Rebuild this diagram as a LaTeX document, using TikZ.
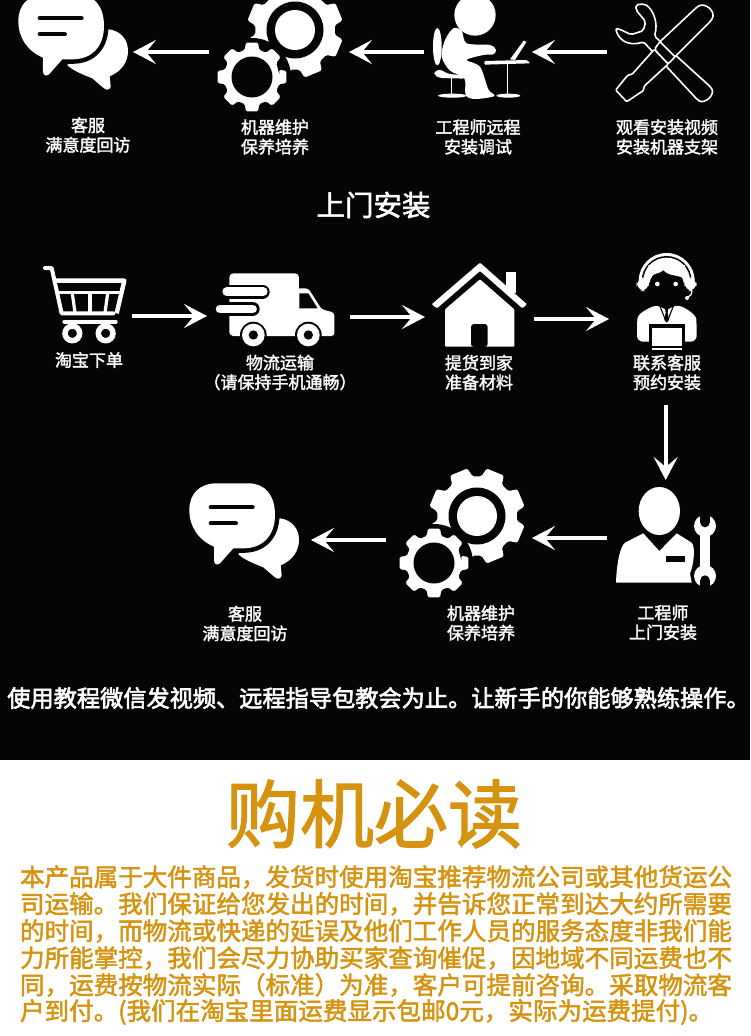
\documentclass[tikz,border=0pt]{standalone}
\usepackage{fontspec}
\usetikzlibrary{arrows.meta,calc}
\setmainfont{Noto Sans CJK SC}
\newfontfamily\cjkmed[FakeBold=1.9]{Noto Sans CJK SC}
\newfontfamily\cjkbold[FakeBold=2.6]{Noto Sans CJK SC}
\newfontfamily\cjktitle[FakeBold=1.6]{Noto Sans CJK SC}
\definecolor{bgdark}{HTML}{050505}
\definecolor{goldtxt}{HTML}{D6930F}
\tikzset{
  flow/.style={draw=white,line width=3.6pt,-{Stealth[length=23pt,width=24pt,inset=10pt]}},
  iconbox/.style={inner sep=0pt,outer sep=0pt,minimum height=#1},
  iconbox/.default=80pt,
  steplabel/.style={text=white,align=center,anchor=center,font=\cjkmed\fontsize{17}{19.6}\selectfont},
  zoomed/.style={x=0.33333pt,y=-0.33333pt},
  halo/.style={preaction={draw=bgdark,line width=#1}},
  bodyline/.style={anchor=west,text=goldtxt,font=\cjkmed\fontsize{24.55}{24.55}\selectfont},
  pics/chat/.style={code={
    \begin{scope}[shift={(170,460)},zoomed]
      \fill[white] (205,283) .. controls (225,300) and (250,310) .. (280,322) -- (315,352)
        .. controls (325,360) and (335,355) .. (335,345) -- (332,316)
        .. controls (370,300) and (387,270) .. (387,240) .. controls (387,205) and (365,180) .. (330,175)
        -- (250,200) -- cycle;
      \path[fill=white,halo=9pt] (58,150) .. controls (58,100) and (90,70) .. (140,70) -- (235,70)
        .. controls (285,70) and (315,105) .. (315,165) .. controls (315,225) and (280,265) .. (220,265)
        -- (190,265) -- (150,310) .. controls (140,318) and (132,312) .. (132,300) -- (132,260)
        .. controls (85,240) and (58,200) .. (58,150) -- cycle;
      \draw[bgdark,line width=4pt,line cap=round] (122,142) -- (248,142);
      \draw[bgdark,line width=4pt,line cap=round] (122,190) -- (198,190);
    \end{scope}}},
  pics/gears/.style={code={
    \begin{scope}
      \fill[white,rounded corners=1.5pt] (335,30)
        \foreach \i in {0,...,7} {
          -- ($(295,30)+({\i*45+22.5-16}:40)$) -- ($(295,30)+({\i*45+22.5-11}:48.5)$)
          -- ($(295,30)+({\i*45+22.5+11}:48.5)$) -- ($(295,30)+({\i*45+22.5+16}:40)$)
        } -- cycle;
      \fill[bgdark] (295,30) circle [radius=28.5];
      \fill[white] (295,30) circle [radius=20];
      \fill[bgdark] (252,77) circle [radius=39];
      \fill[white,rounded corners=1.5pt] (280,77)
        \foreach \i in {0,...,7} {
          -- ($(252,77)+({\i*45-15}:28)$) -- ($(252,77)+({\i*45-10}:35)$)
          -- ($(252,77)+({\i*45+10}:35)$) -- ($(252,77)+({\i*45+15}:28)$)
        } -- cycle;
      \fill[bgdark] (252,77) circle [radius=20.5];
    \end{scope}}}
}
\begin{document}
\begin{tikzpicture}[x=1pt,y=-1pt]
\useasboundingbox (0,0) rectangle (750,1036);
\clip (0,0) rectangle (750,1036);
\fill[white] (0,0) rectangle (750,1036);
\fill[bgdark] (0,0) rectangle (750,760);

% ---------- row 1 icons
\pic at (-171,-489) {chat};
\pic at (0,0) {gears};
% seated engineer
\begin{scope}[shift={(425,0)},zoomed]
  \fill[white] (150,45) circle [radius=62];
  \fill[white] (37,140) ellipse [x radius=13,y radius=56];
  \fill[white] plot[smooth cycle,tension=0.5] coordinates {(85,85) (110,92) (125,130) (195,135) (213,150) (205,163) (175,165) (125,180) (165,200) (190,268) (208,288) (150,297) (122,285) (118,235) (75,212) (50,170) (60,120)};
  \fill[white,rounded corners=3pt] (28,214) -- (45,208) -- (70,222) -- (122,226) -- (122,236) -- (45,234) -- (28,226) -- cycle;
  \draw[white,line width=1.5pt] (80,234) -- (80,285);
  \fill[white] (82,287) ellipse [x radius=43,y radius=6];
  \fill[white,rounded corners=1pt] (178,183) -- (305,180) -- (316,190) -- (178,194) -- cycle;
  \draw[white,line width=1.5pt] (248,190) -- (248,285);
  \fill[white] (250,287) ellipse [x radius=36,y radius=6];
  \fill[white] (255,178) -- (296,122) -- (304,126) -- (270,180) -- cycle;
\end{scope}
% wrench and screwdriver outline
\begin{scope}[shift={(375,0)},zoomed]
  \draw[white,fill=bgdark,line width=1.6pt,line join=round,rounded corners=2pt]
    (783,14) -- (808,12) .. controls (835,28) and (850,70) .. (838,108) -- (1008,262)
    .. controls (1020,285) and (990,312) .. (968,300) -- (805,125)
    .. controls (780,135) and (735,135) .. (722,85) -- (735,88) -- (768,104) -- (805,92) -- (812,65) -- (783,30) -- cycle;
  \draw[white,fill=bgdark,line width=1.6pt,line join=round,rounded corners=1pt]
    (838,148) -- (772,222) -- (758,226) -- (722,270) -- (755,305) -- (805,272) -- (808,258) -- (880,192) -- cycle;
  \draw[white,fill=bgdark,line width=1.6pt,line join=round,rounded corners=2pt]
    (855,125) -- (965,22) .. controls (990,5) and (1025,35) .. (1008,62) -- (900,170) -- (880,192) -- (838,148) -- cycle;
  \draw[white,line width=1.6pt] (855,125) -- (900,170);
\end{scope}

% ---------- row 2 icons
% cart
\begin{scope}[shift={(35,260)},zoomed]
  \draw[white,line width=4pt,line join=round,line cap=round] (30,24) -- (50,24) -- (80,160) -- (235,160);
  \draw[white,line width=4.4pt,line join=round] (58,62) -- (268,62) -- (245,160);
  \draw[white,line width=3pt] (66,98) -- (258,98);
  \draw[white,line width=3.2pt] (112,100) -- (120,158);
  \draw[white,line width=3.2pt] (165,100) -- (165,158);
  \draw[white,line width=3.2pt] (218,100) -- (210,158);
  \draw[white,line width=4pt,line cap=round] (88,185) -- (242,185);
  \draw[white,line width=5.5pt] (112,220) circle [radius=22];
  \draw[white,line width=5.5pt] (212,220) circle [radius=22];
\end{scope}
% truck
\begin{scope}[shift={(0,250)},zoomed]
  \fill[white,rounded corners=4pt] (688,70) -- (897,70) -- (897,258) -- (688,258) -- cycle;
  \fill[white,rounded corners=3pt] (890,115) -- (925,115) -- (965,178) -- (1003,188) -- (1003,258) -- (890,258) -- cycle;
  \fill[bgdark] (898,130) -- (925,130) -- (953,175) -- (898,175) -- cycle;
  \draw[bgdark,line width=14pt,line cap=round] (690,125) -- (788,125);
  \draw[white,line width=8.6pt,line cap=round] (680,125) -- (790,125);
  \draw[bgdark,line width=14pt,line cap=round] (660,177) -- (758,177);
  \draw[white,line width=8.6pt,line cap=round] (660,177) -- (758,177);
  \fill[bgdark] (760,255) circle [radius=40];
  \fill[white] (760,255) circle [radius=34];
  \fill[bgdark] (760,255) circle [radius=14];
  \fill[bgdark] (925,255) circle [radius=40];
  \fill[white] (925,255) circle [radius=34];
  \fill[bgdark] (925,255) circle [radius=14];
\end{scope}
% house
\begin{scope}[shift={(375,250)},zoomed]
  \fill[white] (393,65) rectangle (422,130);
  \fill[bgdark] (315,40) -- (455,165) -- (440,175) -- (315,60) -- cycle;
  \fill[white,rounded corners=1pt] (315,38) -- (456,163) -- (442,175) -- (315,63) -- (186,175) -- (170,163) -- cycle;
  \fill[white,rounded corners=1pt] (315,88) -- (418,178) -- (418,290) -- (210,290) -- (210,178) -- cycle;
  \fill[bgdark,rounded corners=3pt] (288,291) -- (288,222) -- (338,222) -- (338,291) -- cycle;
\end{scope}
% agent
\begin{scope}[shift={(625,245)},zoomed]
  \begin{scope}
    \clip (0,0) rectangle (240,112);
    \fill[white] (125,108) circle [radius=84];
    \fill[bgdark] (125,108) circle [radius=75];
    \fill[white] (125,108) circle [radius=70];
  \end{scope}
  \fill[white,rounded corners=9pt] (35,98) rectangle (72,138);
  \fill[white,rounded corners=9pt] (178,98) rectangle (215,138);
  \fill[bgdark] (125,122) ellipse [x radius=52,y radius=50];
  \fill[white] (70,100) .. controls (85,82) and (105,88) .. (115,75) .. controls (130,95) and (160,88) .. (180,102) -- (180,60) -- (70,60) -- cycle;
  \fill[white] (97,117) circle [radius=7];
  \fill[white] (152,117) circle [radius=7];
  \draw[white,line width=1.3pt] (200,135) .. controls (202,148) and (195,155) .. (186,158);
  \fill[white] (186,159) circle [radius=6];
  \fill[white,rounded corners=6pt] (36,290) -- (36,240) .. controls (38,205) and (70,190) .. (100,178) -- (125,200) -- (150,178) .. controls (185,190) and (213,210) .. (215,240) -- (215,290) -- cycle;
  \draw[bgdark,line width=1.1pt] (103,178) -- (120,222);
  \draw[bgdark,line width=1.1pt] (147,178) -- (130,222);
  \fill[bgdark] (120,190) -- (130,190) -- (128,202) -- (132,225) -- (125,233) -- (118,225) -- (122,202) -- cycle;
  \fill[bgdark] (72,238) rectangle (180,312);
  \fill[white] (80,248) rectangle (172,304);
  \fill[white] (80,310) rectangle (172,315);
\end{scope}

% ---------- row 3 icons
\pic at (0,0) {chat};
\pic at (182,486) {gears};
% engineer with wrench
\begin{scope}[shift={(460,400)},zoomed]
  \fill[white] (598,333) ellipse [x radius=62,y radius=72];
  \fill[white] (550,400) -- (598,453) -- (650,400) -- (695,428) .. controls (708,440) and (700,500) .. (690,520) -- (695,548) -- (468,548)
    .. controls (470,490) and (480,440) .. (495,428) -- cycle;
  \fill[bgdark] (618,468) rectangle (675,486);
  \draw[bgdark,line width=7pt] (735,380) -- (735,530);
  \draw[white,line width=10.5pt] (735,380) -- (735,530);
  \fill[white] (735,378) circle [radius=33];
  \fill[white] (735,528) circle [radius=33];
  \fill[bgdark] (735,368) circle [radius=14];
  \fill[bgdark] (721,345) rectangle (749,368);
  \fill[bgdark] (735,540) circle [radius=14];
  \fill[bgdark] (721,540) rectangle (749,565);
\end{scope}

% ---------- step nodes (connector ports of each icon)
\node[iconbox,minimum width=115pt] (chatA) at (75.5,52) {};
\node[iconbox,minimum width=140pt] (gearA) at (279,52) {};
\node[iconbox,minimum width=108pt] (desk) at (478,52) {};
\node[iconbox,minimum width=118pt] (tools) at (666,52) {};
\node[iconbox,minimum width=89pt] (cart) at (87.5,316) {};
\node[iconbox,minimum width=143pt] (truck) at (278.5,317) {};
\node[iconbox,minimum width=109pt] (house) at (479.5,318) {};
\node[iconbox=172pt,minimum width=113.4pt] (agent) at (665.7,319) {};
\node[iconbox=116pt,minimum width=117.4pt] (engineer) at (665.7,538) {};
\node[iconbox,minimum width=146pt] (gearB) at (459,539) {};
\node[iconbox,minimum width=122pt] (chatB) at (250,540) {};

% ---------- connectors
\draw[flow] (gearA.west) -- (chatA.east);
\draw[flow] (desk.west) -- (gearA.east);
\draw[flow] (tools.west) -- (desk.east);
\draw[flow] (cart.east) -- (truck.west |- cart.east);
\draw[flow] (truck.east) -- (house.west |- truck.east);
\draw[flow] (house.east |- agent.west) -- (agent.west);
\draw[flow] (agent.south) -- (engineer.north);
\draw[flow] (engineer.west) -- (gearB.east |- engineer.west);
\draw[flow] (gearB.west |- chatB.east) -- (chatB.east);

% ---------- labels
\node[steplabel] (t1) at (88,135) {客服\\满意度回访};
\node[steplabel] (t2) at (275,137) {机器维护\\保养培养};
\node[steplabel] (t3) at (478,137) {工程师远程\\安装调试};
\node[steplabel] (t4) at (667,137) {观看安装视频\\安装机器支架};
\node[text=white,anchor=center,font=\cjkmed\fontsize{28.5}{30}\selectfont] (t5) at (373.5,205) {上门安装};
\node[steplabel] (t6) at (89,360) {淘宝下单};
\node[steplabel] (t7) at (280,372.5) {物流运输\\（请保持手机通畅）};
\node[steplabel] (t8) at (479,372.5) {提货到家\\准备材料};
\node[steplabel] (t9) at (667,372.5) {联系客服\\预约安装};
\node[steplabel] (t10) at (245,623.5) {客服\\满意度回访};
\node[steplabel] (t11) at (481,623) {机器维护\\保养培养};
\node[steplabel] (t12) at (663,622.5) {工程师\\上门安装};
\node[anchor=center,text=white,font=\cjkbold\fontsize{23.2}{24}\selectfont] (t13) at (378.5,698) {使用教程微信发视频、远程指导包教会为止。让新手的你能够熟练操作。};

% ---------- notice
\node[anchor=center,text=goldtxt,font=\cjktitle\fontsize{74}{75}\selectfont] (t14) at (374,814) {购机必读};
\node[bodyline] (p1) at (16.5,877) {本产品属于大件商品，发货时使用淘宝推荐物流公司或其他货运公};
\node[bodyline] (p2) at (16.5,904) {司运输。我们保证给您发出的时间，并告诉您正常到达大约所需要};
\node[bodyline] (p3) at (16.5,931) {的时间，而物流或快递的延误及他们工作人员的服务态度非我们能};
\node[bodyline] (p4) at (16.5,958) {力所能掌控，我们会尽力协助买家查询催促，因地域不同运费也不};
\node[bodyline] (p5) at (16.5,985) {同，运费按物流实际（标准）为准，客户可提前咨询。采取物流客};
\node[bodyline] (p6) at (16.5,1012) {户到付。(我们在淘宝里面运费显示包邮0元，实际为运费提付)。};
\end{tikzpicture}
\end{document}
